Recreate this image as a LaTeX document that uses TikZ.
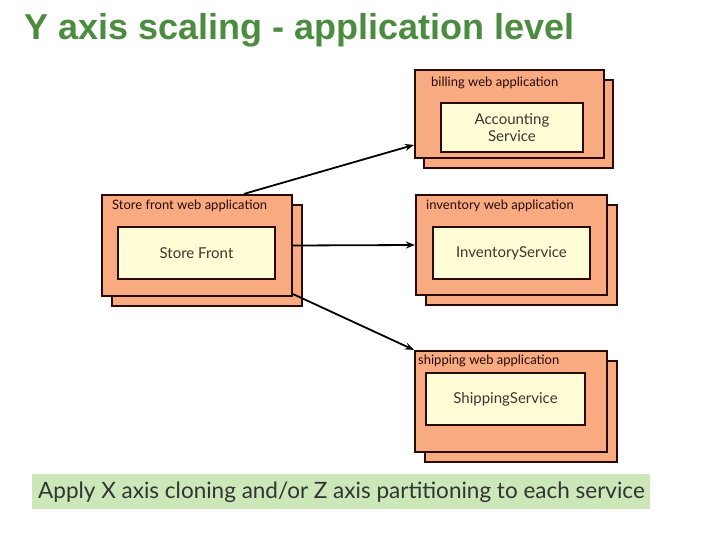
\documentclass[tikz,border=0pt]{standalone}
\usepackage{fontspec}
\setmainfont{Lato}
\newfontfamily\titlefont{Liberation Sans}
\usetikzlibrary{arrows.meta,calc}
\definecolor{titlegreen}{RGB}{76,140,64}
\definecolor{barGreen}{RGB}{204,232,184}
\definecolor{appOrange}{RGB}{248,170,128}
\definecolor{svcYellow}{RGB}{255,252,214}
\definecolor{edgeDark}{RGB}{40,10,10}
\definecolor{txtDark}{RGB}{60,55,45}
\tikzset{
  x=1pt, y=-1pt,
  appbox/.style={draw=edgeDark, line width=2.2pt, fill=appOrange, inner sep=0pt},
  svcbox/.style={draw=edgeDark, line width=2.2pt, fill=svcYellow, inner sep=0pt,
    text=txtDark, font=\fontsize{15}{17}\selectfont, align=center},
  applabel/.style={anchor=north west, inner sep=0pt, text=edgeDark, font=\fontsize{13}{15}\selectfont},
  link/.style={draw=black, line width=1.8pt, -{Stealth[length=9pt,width=7pt]}}
}
\begin{document}
\begin{tikzpicture}
\useasboundingbox (0,0) rectangle (720,540);
\fill[white] (0,0) rectangle (720,540);

% title
\node[anchor=base west, inner sep=0pt, text=titlegreen, font=\titlefont\bfseries\fontsize{36}{40}\selectfont] (title) at (24,40) {Y axis scaling - application level};

% store front application
\node[appbox, minimum width=190pt, minimum height=101pt] (sfback) at (207,255.5) {};
\node[appbox, minimum width=190pt, minimum height=101pt] (sffront) at (197,245.5) {};
\node[applabel] (sflabel) at (112,200) {Store front web application};
\node[svcbox, minimum width=157pt, minimum height=52pt] (sfsvc) at (196.5,253) {Store Front};

% billing application
\node[appbox, minimum width=189pt, minimum height=88pt] (bback) at (518.5,124) {};
\node[appbox, minimum width=189pt, minimum height=88pt] (bfront) at (509.5,114) {};
\node[applabel] (blabel) at (431,77) {billing web application};
\node[svcbox, minimum width=142pt, minimum height=49pt] (bsvc) at (512,127.5) {Accounting\\Service};

% inventory application
\node[appbox, minimum width=191pt, minimum height=100pt] (iback) at (521.5,255) {};
\node[appbox, minimum width=191pt, minimum height=100pt] (ifront) at (511.5,245) {};
\node[applabel] (ilabel) at (426,200) {inventory web application};
\node[svcbox, minimum width=157pt, minimum height=52pt] (isvc) at (511.5,253) {InventoryService};

% shipping application
\node[appbox, minimum width=192pt, minimum height=101pt] (shback) at (521,411.5) {};
\node[appbox, minimum width=192pt, minimum height=101pt] (shfront) at (511,401.5) {};
\node[applabel] (shlabel) at (418,355) {shipping web application};
\node[svcbox, minimum width=159pt, minimum height=52pt] (shsvc) at (505.5,399) {ShippingService};

% connectors
\draw[link] ([xshift=143pt]sffront.north west) -- ([yshift=-76pt]bfront.north west);
\draw[link] (sffront.east) -- (ifront.west);
\draw[link] ([yshift=3pt]sffront.south east) -- (shfront.north west);

% footer
\node[anchor=north west, fill=barGreen, minimum width=618pt, minimum height=35pt, inner sep=0pt] (bar) at (32,474) {};
\node[anchor=west, inner sep=0pt, text=black!80, font=\fontsize{22.5}{26}\selectfont] (note) at (38,492) {Apply X axis cloning and/or Z axis partitioning to each service};
\end{tikzpicture}
\end{document}
